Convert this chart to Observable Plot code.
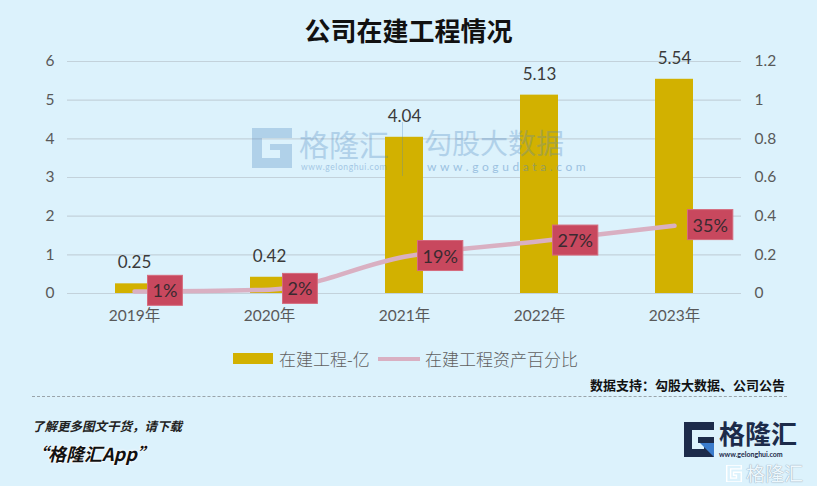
<!DOCTYPE html>
<html>
<head>
<meta charset="utf-8">
<script src="https://cdn.jsdelivr.net/npm/d3@7"></script>
<script src="https://cdn.jsdelivr.net/npm/@observablehq/plot@0.6"></script>
<style>
  html, body { margin: 0; padding: 0; }
  body { width: 817px; height: 486px; overflow: hidden; }
  #wrap { position: relative; width: 817px; height: 486px; background: #dcf2fc; font-family: Lato, "Noto Sans CJK SC", sans-serif; }
  .abs { position: absolute; white-space: nowrap; }
  #chart { position: absolute; left: 0; top: 0; }
  .wm { pointer-events: none; line-height: 1; }
</style>
</head>
<body>
<div id="wrap">
  <div id="chart"></div>

  <!-- watermark (over the chart, translucent) -->
  <div class="abs wm" style="left:252px;top:128px;opacity:0.3;">
    <svg width="42" height="40" viewBox="0 0 42 40"><path d="M0 0 H40 V10 H10 V30 H28 V22 H18 V16 H40 V40 H0 Z" fill="#4d86c0"/></svg>
  </div>
  <div class="abs wm" style="left:299px;top:128px;font-size:30px;color:#4d86c0;opacity:0.3;font-family:'Noto Sans CJK SC';">格隆汇</div>
  <div class="abs wm" style="left:301px;top:163px;font-size:8.5px;color:#4d86c0;opacity:0.4;letter-spacing:0.6px;">www.gelonghui.com</div>
  <div class="abs wm" style="left:402px;top:122px;width:1px;height:54px;background:#4d86c0;opacity:0.3;"></div>
  <div class="abs wm" style="left:424px;top:128px;font-size:28px;color:#4d86c0;opacity:0.3;font-family:'Noto Sans CJK SC';">勾股大数据</div>
  <div class="abs wm" style="left:427px;top:161px;font-size:12px;color:#4d86c0;opacity:0.45;letter-spacing:3.6px;">www.gogudata.com</div>

  <div class="abs" style="left:0;width:817px;top:11px;text-align:center;font-size:26px;font-weight:700;color:#111;font-family:'Noto Sans CJK SC';">公司在建工程情况</div>

  <!-- legend -->
  <div class="abs" style="left:233px;top:353px;width:40px;height:11px;background:#d2b100;"></div>
  <div class="abs" style="left:279px;top:346px;font-size:17px;color:#606060;font-family:'Noto Sans CJK SC';font-weight:300;">在建工程-亿</div>
  <div class="abs" style="left:378px;top:357px;width:42px;height:4px;background:#d9b0c2;"></div>
  <div class="abs" style="left:425px;top:346px;font-size:17px;color:#606060;font-family:'Noto Sans CJK SC';font-weight:300;">在建工程资产百分比</div>

  <div class="abs" style="right:32px;top:375px;font-size:13px;font-weight:700;color:#111;font-family:'Noto Sans CJK SC';">数据支持：勾股大数据、公司公告</div>
  <div class="abs" style="left:32px;top:396px;width:755px;height:0;border-top:1px dashed #9aa4aa;"></div>

  <!-- footer -->
  <div class="abs" style="left:32px;top:416px;font-size:12.5px;font-weight:700;font-style:italic;color:#222;font-family:'Noto Sans CJK SC';">了解更多图文干货，请下载</div>
  <div class="abs" style="left:30px;top:440px;font-size:18px;font-weight:700;font-style:italic;color:#111;font-family:'Noto Sans CJK SC';text-shadow:0 0 2px #fff,0 0 2px #fff,0 0 3px #fff;">“格隆汇App”</div>

  <div class="abs" style="left:684px;top:422px;">
    <svg width="32" height="35" viewBox="0 0 32 35"><path d="M0 0 H30 V8 H8 V27 H20 V21 H14 V15 H30 V35 H0 Z" fill="#1c2b4a"/><path d="M16 21 H30 V35 Z" fill="#3a7ccc"/></svg>
  </div>
  <div class="abs" style="left:719px;top:420px;font-size:26px;line-height:26px;font-weight:700;color:#1c2b4a;font-family:'Noto Sans CJK SC';">格隆汇</div>
  <div class="abs" style="left:719px;top:450px;font-size:7px;line-height:8px;font-weight:700;color:#1c2b4a;">www.gelonghui.com</div>
  <div class="abs" style="left:726px;top:465px;">
    <svg width="17" height="17" viewBox="0 0 32 35"><path d="M0 0 H30 V8 H8 V27 H20 V21 H14 V15 H30 V35 H0 Z" fill="none" stroke="#fff" stroke-width="3"/></svg>
  </div>
  <div class="abs" style="left:746px;top:463px;font-size:19px;line-height:19px;color:#eef8fd;font-family:'Noto Sans CJK SC';text-shadow:0 0 1px #9ab,0 0 1px #9ab;">格隆汇</div>
</div>

<script>
// ---- data ----
const years = ["2019年", "2020年", "2021年", "2022年", "2023年"];
const cipValues = [0.25, 0.42, 4.04, 5.13, 5.54];          // 在建工程-亿
const pctValues = [0.01, 0.02, 0.19, 0.27, 0.35];          // 在建工程资产百分比
const pctLabels = ["1%", "2%", "19%", "27%", "35%"];
const leftTicks = [0, 1, 2, 3, 4, 5, 6];
const rightTicks = [0, 0.2, 0.4, 0.6, 0.8, 1, 1.2];

const leftMax = 6, rightMax = 1.2;
const k = leftMax / rightMax; // map right axis onto left scale

const data = years.map((year, i) => ({ year, cip: cipValues[i], pct: pctValues[i], lab: pctLabels[i] }));

const tickColor = "#595959";
const BOX_FILL = "#c8485e";

const chart = Plot.plot({
  width: 817,
  height: 486,
  marginTop: 61,
  marginBottom: 193,
  marginLeft: 67,
  marginRight: 76,
  style: { background: "transparent", fontFamily: "Lato, 'Noto Sans CJK SC', sans-serif", overflow: "visible" },
  x: { domain: years, paddingInner: 0.72, paddingOuter: 0.356, label: null },
  y: { domain: [0, leftMax], label: null },
  marks: [
    Plot.gridY(leftTicks, { stroke: "#c3d2db", strokeOpacity: 1, strokeWidth: 1.2 }),
    Plot.axisY(leftTicks, { anchor: "left", tickSize: 0, tickPadding: 13, fontSize: 15.5, fill: tickColor, label: null }),
    Plot.axisY(rightTicks.map(v => v * k), { anchor: "right", tickSize: 0, tickPadding: 13, fontSize: 15.5, fill: tickColor, label: null,
      tickFormat: d => String(+(d / k).toFixed(1)) }),
    Plot.axisX({ tickSize: 0, tickPadding: 16, fontSize: 15.5, fill: tickColor, label: null }),
    Plot.barY(data, { x: "year", y: "cip", fill: "#d2b100" }),
    Plot.text(data, { x: "year", y: "cip", text: d => d.cip.toFixed(2), dy: -21, fontSize: 17, fill: "#3a3a3a" }),
    Plot.line(data, { x: "year", y: d => d.pct * k, curve: "monotone-x", stroke: "#d9b0c2", strokeWidth: 4.5 }),
    Plot.text(data, { x: "year", y: d => d.pct * k, text: "lab", textAnchor: "start", dx: 18, fontSize: 18, fill: "#3a2a30" })
  ]
});

document.getElementById("chart").append(chart);

// label boxes behind percentage texts, sized from the rendered text
const pctSet = new Set(pctLabels);
chart.querySelectorAll("text").forEach(t => {
  if (!pctSet.has(t.textContent.trim()) || t.querySelector("tspan")) return;
  const b = t.getBBox();
  const r = document.createElementNS("http://www.w3.org/2000/svg", "rect");
  const padX = 5;
  r.setAttribute("x", b.x - padX);
  r.setAttribute("y", b.y + b.height / 2 - 15);
  r.setAttribute("width", b.width + 2 * padX);
  r.setAttribute("height", 30);
  r.setAttribute("fill", BOX_FILL);
  r.setAttribute("stroke", "#d56b7d");
  r.setAttribute("stroke-width", "1");
  const tr = t.getAttribute("transform");
  if (tr) r.setAttribute("transform", tr);
  t.parentNode.insertBefore(r, t);
});
</script>
</body>
</html>
